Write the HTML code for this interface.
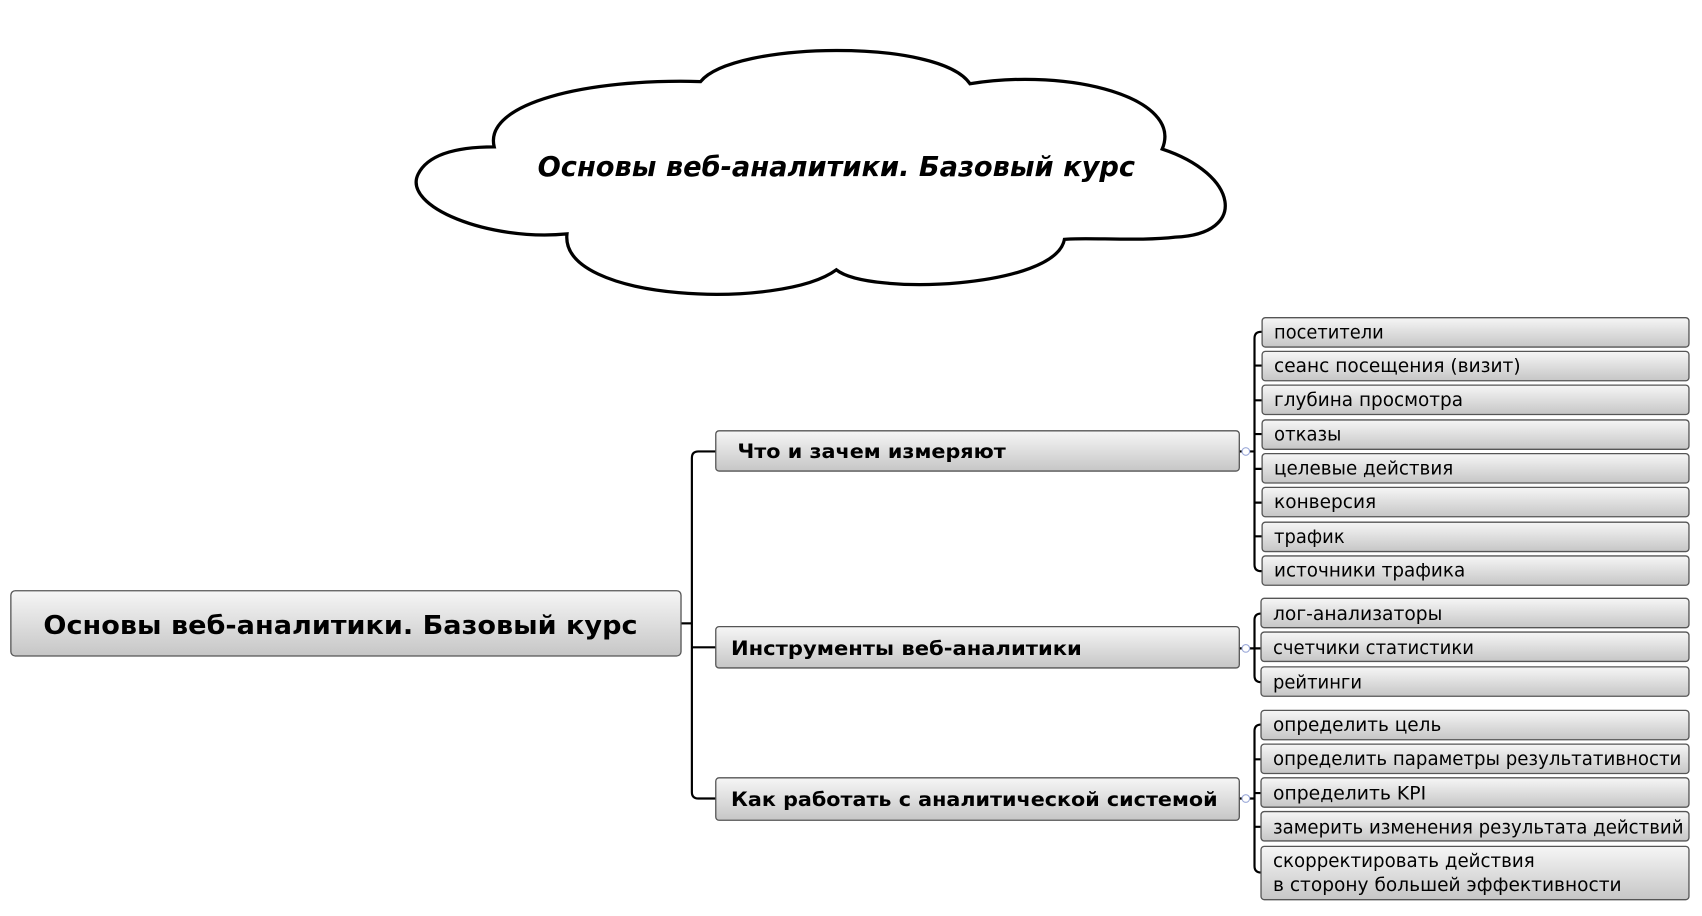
<!DOCTYPE html>
<html><head><meta charset="utf-8"><style>
html,body{margin:0;padding:0;background:#fff;width:1702px;height:916px;overflow:hidden}
svg{display:block}
text{font-family:"DejaVu Sans","Liberation Sans",sans-serif;fill:#000}
.l{font-size:17px}
.m{font-size:18px;font-weight:bold}
</style></head><body>
<svg width="1702" height="916" viewBox="0 0 1567 842" preserveAspectRatio="none" xmlns="http://www.w3.org/2000/svg">
<defs>
<linearGradient id="g" x1="0" y1="0" x2="0" y2="1">
<stop offset="0" stop-color="#f6f6f6"/><stop offset="1" stop-color="#c6c6c6"/>
</linearGradient>
</defs>
<!-- cloud -->
<path d="M455,135 C445,95 540,72 645,75 C675,38 865,35 893,77 C985,62 1090,90 1070,137 C1140,160 1150,215 1082,218 C1050,222 1000,218 980,220 C972,265 800,272 770,248 C720,285 515,278 522,215 C450,222 370,190 385,160 C395,140 425,135 455,135 Z" fill="#fff" stroke="#000" stroke-width="3"/>
<text x="495" y="162" font-size="25" font-weight="bold" font-style="italic" textLength="550" lengthAdjust="spacingAndGlyphs">Основы веб-аналитики. Базовый курс</text>

<g fill="none" stroke="#000" stroke-width="2">
<path d="M627,573 H637"/>
<path d="M659,415 H643 Q637,415 637,421 V728 Q637,734 643,734 H659"/>
<path d="M637,595 H659"/>
<path d="M1162,305 H1161 Q1155,305 1155,311 V519 Q1155,525 1161,525 H1162"/>
<path d="M1155,336 H1162 M1155,368 H1162 M1155,399 H1162 M1155,431 H1162 M1155,462 H1162 M1155,493 H1162 M1141,415 H1155"/>
<path d="M1162,564 H1161 Q1155,564 1155,570 V621 Q1155,627 1161,627 H1162 M1141,596 H1162"/>
<path d="M1162,666 H1161 Q1155,666 1155,672 V796 Q1155,802 1161,802 H1162 M1155,698 H1162 M1155,729 H1162 M1155,760 H1162 M1141,734 H1155"/>
</g>
<g fill="#fff" stroke="#9aa8d8" stroke-width="1">
<circle cx="1147" cy="415" r="3.5"/><circle cx="1147" cy="596" r="3.5"/><circle cx="1147" cy="734" r="3.5"/>
</g>

<rect x="10" y="543" width="617" height="60" rx="4" fill="url(#g)" stroke="#555" stroke-width="1.2"/>
<text x="40" y="583" font-size="24" font-weight="bold" textLength="547" lengthAdjust="spacingAndGlyphs">Основы веб-аналитики. Базовый курс</text>

<g fill="url(#g)" stroke="#555" stroke-width="1.2">
<rect x="659" y="396" width="482" height="37" rx="3"/>
<rect x="659" y="576" width="482" height="38" rx="3"/>
<rect x="659" y="715" width="482" height="39" rx="3"/>
</g>
<text class="m" x="679" y="421" textLength="247" lengthAdjust="spacingAndGlyphs">Что и зачем измеряют</text>
<text class="m" x="673" y="602" textLength="323" lengthAdjust="spacingAndGlyphs">Инструменты веб-аналитики</text>
<text class="m" x="673" y="741" textLength="448" lengthAdjust="spacingAndGlyphs">Как работать с аналитической системой</text>

<g fill="url(#g)" stroke="#555" stroke-width="1.2">
<rect x="1162" y="292" width="393" height="27" rx="3"/>
<rect x="1162" y="323" width="393" height="27" rx="3"/>
<rect x="1162" y="354" width="393" height="27" rx="3"/>
<rect x="1162" y="386" width="393" height="27" rx="3"/>
<rect x="1162" y="417" width="393" height="27" rx="3"/>
<rect x="1162" y="448" width="393" height="27" rx="3"/>
<rect x="1162" y="480" width="393" height="27" rx="3"/>
<rect x="1162" y="511" width="393" height="27" rx="3"/>
<rect x="1161" y="550" width="394" height="27" rx="3"/>
<rect x="1161" y="581" width="394" height="27" rx="3"/>
<rect x="1161" y="613" width="394" height="27" rx="3"/>
<rect x="1161" y="653" width="394" height="27" rx="3"/>
<rect x="1161" y="684" width="394" height="27" rx="3"/>
<rect x="1161" y="715" width="394" height="27" rx="3"/>
<rect x="1161" y="746" width="394" height="27" rx="3"/>
<rect x="1161" y="778" width="394" height="49" rx="3"/>
</g>
<g>
<text class="l" x="1173" y="311" textLength="101" lengthAdjust="spacingAndGlyphs">посетители</text>
<text class="l" x="1173" y="342" textLength="227" lengthAdjust="spacingAndGlyphs">сеанс посещения (визит)</text>
<text class="l" x="1173" y="373" textLength="174" lengthAdjust="spacingAndGlyphs">глубина просмотра</text>
<text class="l" x="1173" y="405" textLength="62" lengthAdjust="spacingAndGlyphs">отказы</text>
<text class="l" x="1173" y="436" textLength="165" lengthAdjust="spacingAndGlyphs">целевые действия</text>
<text class="l" x="1173" y="467" textLength="94" lengthAdjust="spacingAndGlyphs">конверсия</text>
<text class="l" x="1173" y="499" textLength="65" lengthAdjust="spacingAndGlyphs">трафик</text>
<text class="l" x="1173" y="530" textLength="176" lengthAdjust="spacingAndGlyphs">источники трафика</text>
<text class="l" x="1172" y="570" textLength="156" lengthAdjust="spacingAndGlyphs">лог-анализаторы</text>
<text class="l" x="1172" y="601" textLength="185" lengthAdjust="spacingAndGlyphs">счетчики статистики</text>
<text class="l" x="1172" y="633" textLength="82" lengthAdjust="spacingAndGlyphs">рейтинги</text>
<text class="l" x="1172" y="672" textLength="155" lengthAdjust="spacingAndGlyphs">определить цель</text>
<text class="l" x="1172" y="703" textLength="376" lengthAdjust="spacingAndGlyphs">определить параметры результативности</text>
<text class="l" x="1172" y="735" textLength="141" lengthAdjust="spacingAndGlyphs">определить KPI</text>
<text class="l" x="1172" y="766" textLength="378" lengthAdjust="spacingAndGlyphs">замерить изменения результата действий</text>
<text class="l" x="1172" y="797" textLength="241" lengthAdjust="spacingAndGlyphs">скорректировать действия</text>
<text class="l" x="1172" y="819" textLength="321" lengthAdjust="spacingAndGlyphs">в сторону большей эффективности</text>
</g>
</svg>
</body></html>
